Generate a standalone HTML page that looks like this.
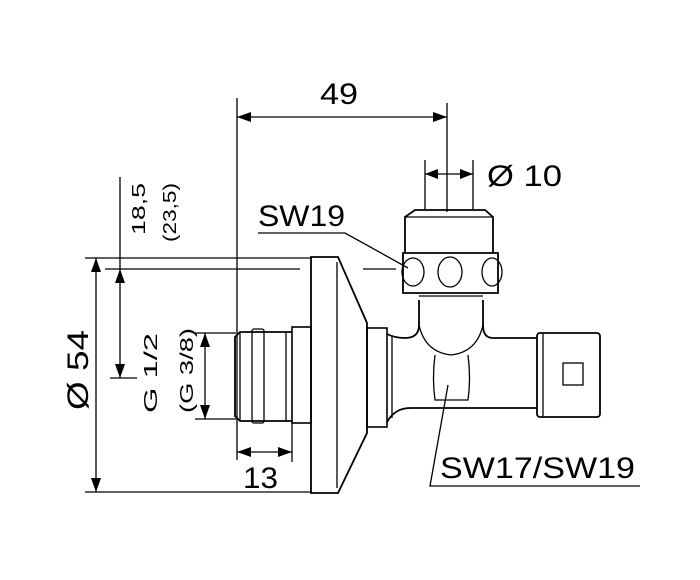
<!DOCTYPE html>
<html><head><style>body{margin:0;background:#fff}svg{display:block}</style></head><body>
<svg width="700" height="580" viewBox="0 0 700 580" xmlns="http://www.w3.org/2000/svg" font-family="Liberation Sans, sans-serif">
<g stroke="#000" fill="none" stroke-width="1.3">
<line x1="237" y1="98" x2="237" y2="460"/>
<line x1="447" y1="103" x2="447" y2="212"/>
<line x1="237" y1="117" x2="447" y2="117"/>
<line x1="425" y1="160" x2="425" y2="210"/>
<line x1="473" y1="160" x2="473" y2="210"/>
<line x1="425" y1="174" x2="473" y2="174"/>
<line x1="85" y1="258" x2="312" y2="258"/>
<line x1="105" y1="269" x2="300" y2="269"/>
<line x1="363" y1="269" x2="396" y2="269"/>
<line x1="85" y1="492" x2="312" y2="492"/>
<line x1="96" y1="258" x2="96" y2="492"/>
<line x1="120" y1="177" x2="120" y2="378"/>
<line x1="110" y1="378" x2="137" y2="378"/>
<line x1="195" y1="333" x2="236" y2="333"/>
<line x1="195" y1="419" x2="236" y2="419"/>
<line x1="205" y1="333" x2="205" y2="419"/>
<line x1="292" y1="423" x2="292" y2="462"/>
<line x1="237" y1="452" x2="292" y2="452"/>
<polyline points="258,233 345,233 408,268"/>
<polyline points="640,486 430,486 448,385"/>
<path d="M311,257 H338 L367,323 V433 L338,493 H311 Z" stroke-width="1.8"/>
<line x1="337" y1="262" x2="337" y2="488"/>
<rect x="292" y="327" width="19" height="96" stroke-width="1.6"/>
<path d="M292,332 H240 L235,337 V416 L240,421 H292" stroke-width="1.8"/>
<line x1="240" y1="332" x2="240" y2="421"/>
<rect x="252" y="329" width="12" height="94" rx="2"/>
<line x1="286" y1="332" x2="286" y2="421"/>
<rect x="367" y="328" width="20" height="99" stroke-width="1.6"/>
<path d="M387,334 Q395,338 405,338 Q419,338 419,325 V300 M483,300 V325 Q483,338 493,338 H537 M387,422 Q395,408 410,408 H537" stroke-width="1.8"/>
<line x1="392" y1="336" x2="392" y2="418"/>
<path d="M419,325 Q425,352 451,355 Q477,352 483,325"/>
<path d="M435,355 Q432,378 435,400 H468 Q471,378 468,355"/>
<rect x="537" y="333" width="63" height="84" rx="3" stroke-width="1.8"/>
<line x1="543" y1="334" x2="543" y2="416"/>
<rect x="563" y="363" width="20" height="22"/>
<path d="M403,253 H498 V293 H403 Z" stroke-width="1.8"/>
<line x1="419" y1="296" x2="483" y2="296"/>
<ellipse cx="413" cy="272" rx="11" ry="14"/>
<ellipse cx="450" cy="272" rx="12" ry="15"/>
<ellipse cx="492" cy="272" rx="10" ry="14"/>
<path d="M405,253 V217 L415,210 H485 L493,217 V253" stroke-width="1.8"/>
<line x1="405" y1="217" x2="493" y2="217"/>
</g>
<g fill="#000">
<polygon points="237,117 251,112 251,122"/>
<polygon points="447,117 433,112 433,122"/>
<polygon points="425,174 438,169 438,179"/>
<polygon points="473,174 460,169 460,179"/>
<polygon points="96,258 91,272 101,272"/>
<polygon points="96,492 91,478 101,478"/>
<polygon points="120,269 115,283 125,283"/>
<polygon points="120,378 115,364 125,364"/>
<polygon points="205,333 200,347 210,347"/>
<polygon points="205,419 200,405 210,405"/>
<polygon points="237,452 251,447 251,457"/>
<polygon points="292,452 278,447 278,457"/>
</g>
<g fill="#000" font-size="30">
<text x="320" y="104" textLength="38" lengthAdjust="spacingAndGlyphs">49</text>
<text x="487" y="186" textLength="75" lengthAdjust="spacingAndGlyphs">Ø 10</text>
<text x="258" y="226" textLength="87" lengthAdjust="spacingAndGlyphs">SW19</text>
<text x="440" y="478" textLength="195" lengthAdjust="spacingAndGlyphs">SW17/SW19</text>
<text x="243" y="488" textLength="35" lengthAdjust="spacingAndGlyphs">13</text>
<text transform="translate(88,410) rotate(-90)" textLength="80" lengthAdjust="spacingAndGlyphs">Ø 54</text>
</g>
<g fill="#000" font-size="18">
<text transform="translate(145,235) rotate(-90)" textLength="52" lengthAdjust="spacingAndGlyphs">18,5</text>
<text transform="translate(176,242) rotate(-90)" textLength="59" lengthAdjust="spacingAndGlyphs">(23,5)</text>
<text transform="translate(157,413) rotate(-90)" textLength="80" lengthAdjust="spacingAndGlyphs">G 1/2</text>
<text transform="translate(193,413) rotate(-90)" textLength="85" lengthAdjust="spacingAndGlyphs">(G 3/8)</text>
</g>
</svg>
</body></html>
